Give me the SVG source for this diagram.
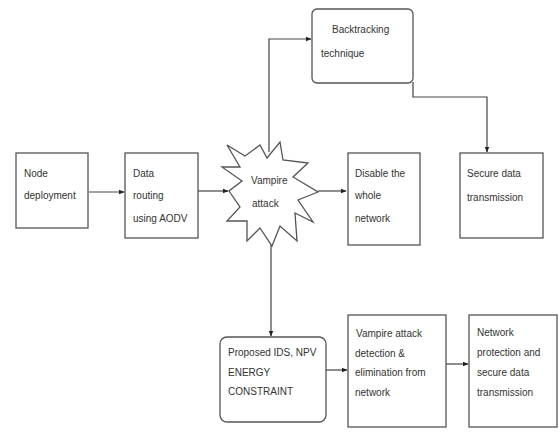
<svg xmlns="http://www.w3.org/2000/svg" width="559" height="438" viewBox="0 0 559 438">
<defs>
<marker id="ah" viewBox="0 0 10 10" refX="9" refY="5" markerWidth="6" markerHeight="6" orient="auto" markerUnits="userSpaceOnUse">
<path d="M0,1 L10,5 L0,9 z" fill="#222"/>
</marker>
<style>
.box{fill:#fff;stroke:#555;stroke-width:1.3}
.t{font-family:"Liberation Sans",Arial,sans-serif;font-size:10px;fill:#333}
.c{fill:none;stroke:#444;stroke-width:1.2}
</style>
</defs>
<rect width="559" height="438" fill="#fff"/>
<g id="connectors">
<path class="c" d="M89,192 H124" marker-end="url(#ah)"/>
<path class="c" d="M198,191 H228" marker-end="url(#ah)"/>
<path class="c" d="M318,191 H346" marker-end="url(#ah)"/>
<path class="c" d="M269,152 V39 H311" marker-end="url(#ah)"/>
<path class="c" d="M413,82 V97 H487 V152" marker-end="url(#ah)"/>
<path class="c" d="M271,243 V336" marker-end="url(#ah)"/>
<path class="c" d="M326,370 H347" marker-end="url(#ah)"/>
<path class="c" d="M446,364 H468" marker-end="url(#ah)"/>
</g>
<g id="node-deployment">
<rect class="box" x="16" y="153" width="72" height="75"/>
<text class="t" x="24" y="177">Node</text>
<text class="t" x="24" y="199">deployment</text>
</g>
<g id="data-routing">
<rect class="box" x="125" y="153" width="73" height="85"/>
<text class="t" x="133" y="177">Data</text>
<text class="t" x="133" y="199">routing</text>
<text class="t" x="133" y="222">using AODV</text>
</g>
<g id="vampire-attack">
<polygon class="box" points="227,145 245,156 260,145 267,158 280,142 283,160 308,163 293,177 318,192 298,200 313,222 295,213 297,241 280,226 272,246 260,228 247,241 247,221 227,221 240,207 229,191 242,181 222,167 240,167"/>
<text class="t" x="251" y="184">Vampire</text>
<text class="t" x="252" y="207">attack</text>
</g>
<g id="backtracking">
<rect class="box" x="312" y="9" width="101" height="74" rx="5"/>
<text class="t" x="332" y="33">Backtracking</text>
<text class="t" x="321" y="57">technique</text>
</g>
<g id="disable">
<rect class="box" x="348" y="153" width="72" height="92"/>
<text class="t" x="355" y="177">Disable the</text>
<text class="t" x="355" y="199">whole</text>
<text class="t" x="355" y="222">network</text>
</g>
<g id="secure">
<rect class="box" x="460" y="153" width="83" height="85"/>
<text class="t" x="467" y="177">Secure data</text>
<text class="t" x="467" y="201">transmission</text>
</g>
<g id="proposed">
<rect class="box" x="220" y="337" width="106" height="85" rx="7"/>
<text class="t" x="228" y="356">Proposed IDS, NPV</text>
<text class="t" x="228" y="376">ENERGY</text>
<text class="t" x="228" y="395">CONSTRAINT</text>
</g>
<g id="detection">
<rect class="box" x="348" y="315" width="98" height="112"/>
<text class="t" x="356" y="337">Vampire attack</text>
<text class="t" x="355" y="357">detection &amp;</text>
<text class="t" x="355" y="376">elimination from</text>
<text class="t" x="355" y="396">network</text>
</g>
<g id="protection">
<rect class="box" x="469" y="315" width="88" height="112"/>
<text class="t" x="477" y="336">Network</text>
<text class="t" x="477" y="356">protection and</text>
<text class="t" x="477" y="376">secure data</text>
<text class="t" x="477" y="396">transmission</text>
</g>
</svg>
